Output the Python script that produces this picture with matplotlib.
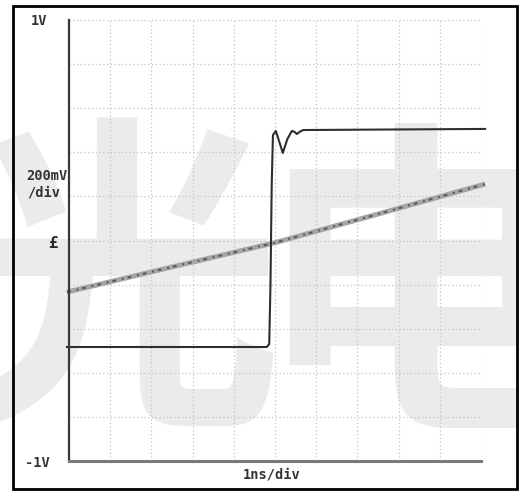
import matplotlib
matplotlib.use('Agg')
import matplotlib.pyplot as plt
from matplotlib.patches import Rectangle
import numpy as np

W, H = 519, 491

# step response (ns, V)
step_t = [-0.05, 4.80, 4.86, 4.89, 4.92, 4.95, 5.02, 5.10, 5.19, 5.30, 5.41, 5.48, 5.53, 5.61, 5.68, 10.1]
step_v = [-0.483, -0.483, -0.47, -0.20, 0.25, 0.478, 0.497, 0.45, 0.397, 0.46, 0.497, 0.492, 0.483, 0.494, 0.501, 0.506]

# slow ramp (ns, V)
ramp_t = [-0.05, 2.5, 5.0, 7.5, 10.1]
ramp_v = [-0.234, -0.120, -0.010, 0.120, 0.256]

x_ticks = list(range(0, 11))
y_ticks = [-1.0, -0.8, -0.6, -0.4, -0.2, 0.0, 0.2, 0.4, 0.6, 0.8, 1.0]


def px(x, y):
    return x / W, 1 - y / H


fig = plt.figure(figsize=(W / 100, H / 100), dpi=100)
fig.patch.set_facecolor('white')

# watermark behind everything
wm = dict(fontsize=238, color='#ebebeb', ha='center', va='center', zorder=-5,
          family=['Noto Sans CJK SC', 'DejaVu Sans'], fontweight='bold')
fig.text(*px(118, 302), '光', **wm)
fig.text(*px(418, 306), '电', **wm)

ax = fig.add_axes([69 / W, 30 / H, (481 - 69) / W, (461 - 20) / H])
ax.set_facecolor('none')
ax.set_xlim(0, 10)
ax.set_ylim(-1, 1)
ax.set_xticks(x_ticks)
ax.set_yticks(y_ticks)
ax.tick_params(length=0, labelbottom=False, labelleft=False)
ax.grid(color='#c4c4c4', linestyle=(0, (1, 2)), linewidth=0.9)
for s in ['top', 'right']:
    ax.spines[s].set_visible(False)
ax.spines['left'].set_color('#3a3a3a')
ax.spines['left'].set_linewidth(1.6)
ax.spines['bottom'].set_color('#7a7a7a')
ax.spines['bottom'].set_linewidth(2.2)

ax.plot(ramp_t, ramp_v, color='#a6a6a6', linewidth=3.6, clip_on=False, solid_capstyle='butt')
ax.plot(ramp_t, ramp_v, color='#555555', linewidth=1.4, linestyle=(0, (2, 3, 1, 2)), clip_on=False)
ax.plot(step_t, step_v, color='#2e2e2e', linewidth=1.5, clip_on=False)

lab = dict(family='DejaVu Sans Mono', fontweight='bold', fontsize=9.8, color='#333333')
fig.text(*px(31, 21), '1V', ha='left', va='center', **lab)
fig.text(*px(26, 176), '200mV', ha='left', va='center', **lab)
fig.text(*px(27, 192), '/div', ha='left', va='center', **lab)
fig.text(*px(25, 463), '-1V', ha='left', va='center', **lab)
fig.text(*px(272, 474), '1ns/div', ha='center', va='center', **lab)
fig.text(*px(53, 243), '£', ha='center', va='center',
         family='DejaVu Sans Mono', fontweight='bold', fontsize=11.5, color='#2a2a2a')

fig.patches.append(Rectangle(px(13, 489), (517 - 13) / W, (489 - 6) / H, transform=fig.transFigure,
                             fill=False, edgecolor='black', linewidth=2))

fig.savefig('out.png', dpi=100, facecolor='white')
